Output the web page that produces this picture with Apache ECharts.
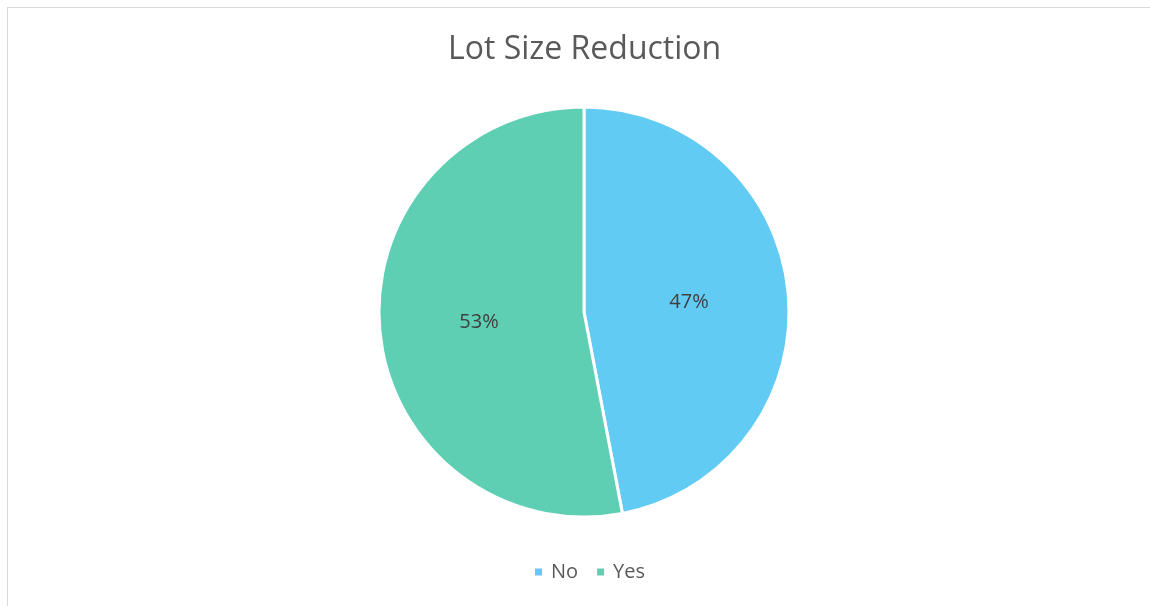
<!DOCTYPE html>
<html>
<head>
<meta charset="utf-8">
<script src="https://cdn.jsdelivr.net/npm/echarts@6/dist/echarts.min.js"></script>
<style>
  html, body { margin: 0; padding: 0; background: #fff; overflow: hidden; }
  #frame {
    position: absolute; left: 7px; top: 7px; width: 1160px; height: 620px;
    border-top: 1px solid #d9d9d9; border-left: 1px solid #d9d9d9;
  }
  #chart { position: absolute; left: 0; top: 0; width: 1150px; height: 606px; }
</style>
</head>
<body>
<div id="frame"></div>
<div id="chart"></div>
<script>
  const chartTitle = 'Lot Size Reduction';
  const categories = ['No', 'Yes'];
  const shares = [47, 53];
  const sliceColors = ['#61cbf4', '#5ecfb3'];

  const chart = echarts.init(document.getElementById('chart'));
  const textFont = '"Open Sans", "Liberation Sans", sans-serif';

  chart.setOption({
    animation: false,
    title: {
      text: chartTitle,
      left: 443,
      top: 29,
      textStyle: { fontFamily: textFont, fontSize: 32, fontWeight: 'normal', color: '#595959' }
    },
    legend: {
      data: categories,
      bottom: 19,
      left: 528,
      icon: 'rect',
      itemWidth: 9,
      itemHeight: 9,
      itemGap: 17,
      textStyle: { fontFamily: textFont, fontSize: 20, color: '#595959', padding: [0, 0, 0, 3] }
    },
    series: [{
      type: 'pie',
      center: [584, 312],
      radius: 205,
      startAngle: 90,
      clockwise: true,
      data: categories.map((c, i) => ({
        name: c,
        value: shares[i],
        itemStyle: { color: sliceColors[i] }
      })),
      itemStyle: { borderColor: '#fff', borderWidth: 3 },
      label: {
        position: 'inside',
        formatter: '{c}%',
        fontFamily: textFont,
        fontSize: 20,
        color: '#404040'
      },
      labelLine: { show: false },
      emphasis: { disabled: true }
    }]
  });
</script>
</body>
</html>
